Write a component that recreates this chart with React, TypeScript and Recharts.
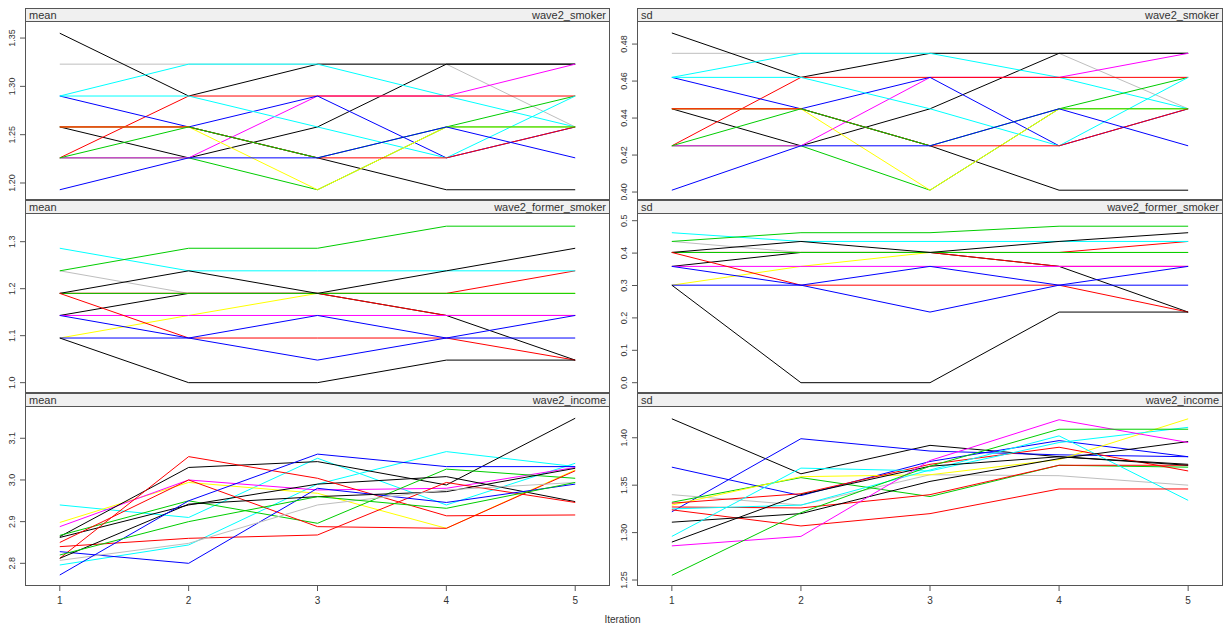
import React from "react";
import { LineChart, Line, XAxis, YAxis } from "recharts";

const iterations = [1, 2, 3, 4, 5];

const palette: Record<string, string> = {
  black: "#000000",
  red: "#FF0000",
  green: "#00CD00",
  blue: "#0000FF",
  cyan: "#00FFFF",
  magenta: "#FF00FF",
  yellow: "#FFFF00",
  gray: "#BEBEBE",
};

// wave2_smoker (one row per imputation chain, drawing order)
const smokerColors = ["gray", "black", "black", "cyan", "green", "magenta", "red", "blue", "cyan", "black", "yellow", "red", "green", "blue"];
const smokerMean = [
  [1.323, 1.323, 1.323, 1.323, 1.258],
  [1.258, 1.226, 1.258, 1.323, 1.323],
  [1.355, 1.29, 1.323, 1.323, 1.323],
  [1.29, 1.323, 1.323, 1.29, 1.258],
  [1.226, 1.226, 1.193, 1.258, 1.29],
  [1.226, 1.226, 1.29, 1.29, 1.323],
  [1.226, 1.29, 1.29, 1.29, 1.29],
  [1.29, 1.258, 1.29, 1.226, 1.258],
  [1.29, 1.29, 1.258, 1.226, 1.29],
  [1.258, 1.258, 1.226, 1.193, 1.193],
  [1.258, 1.258, 1.193, 1.258, 1.258],
  [1.258, 1.258, 1.226, 1.226, 1.258],
  [1.226, 1.258, 1.226, 1.258, 1.258],
  [1.193, 1.226, 1.226, 1.258, 1.226],
];
const smokerSd = [
  [0.475, 0.475, 0.475, 0.475, 0.445],
  [0.445, 0.425, 0.445, 0.475, 0.475],
  [0.486, 0.462, 0.475, 0.475, 0.475],
  [0.462, 0.475, 0.475, 0.462, 0.445],
  [0.425, 0.425, 0.401, 0.445, 0.462],
  [0.425, 0.425, 0.462, 0.462, 0.475],
  [0.425, 0.462, 0.462, 0.462, 0.462],
  [0.462, 0.445, 0.462, 0.425, 0.445],
  [0.462, 0.462, 0.445, 0.425, 0.462],
  [0.445, 0.445, 0.425, 0.401, 0.401],
  [0.445, 0.445, 0.401, 0.445, 0.445],
  [0.445, 0.445, 0.425, 0.425, 0.445],
  [0.425, 0.445, 0.425, 0.445, 0.445],
  [0.401, 0.425, 0.425, 0.445, 0.425],
];

// wave2_former_smoker
const formerColors = ["gray", "yellow", "red", "black", "red", "green", "magenta", "cyan", "green", "black", "red", "blue", "blue", "black"];
const formerMean = [
  [1.238, 1.19, 1.19, 1.19, 1.19],
  [1.095, 1.143, 1.19, 1.19, 1.19],
  [1.19, 1.19, 1.19, 1.19, 1.238],
  [1.143, 1.19, 1.19, 1.143, 1.048],
  [1.19, 1.19, 1.19, 1.143, 1.143],
  [1.19, 1.19, 1.19, 1.19, 1.19],
  [1.143, 1.143, 1.143, 1.143, 1.143],
  [1.286, 1.238, 1.238, 1.238, 1.238],
  [1.238, 1.286, 1.286, 1.333, 1.333],
  [1.19, 1.238, 1.19, 1.238, 1.286],
  [1.19, 1.095, 1.095, 1.095, 1.048],
  [1.143, 1.095, 1.048, 1.095, 1.095],
  [1.095, 1.095, 1.143, 1.095, 1.143],
  [1.095, 1.0, 1.0, 1.048, 1.048],
];
const formerSd = [
  [0.436, 0.402, 0.402, 0.402, 0.402],
  [0.301, 0.359, 0.402, 0.402, 0.402],
  [0.402, 0.402, 0.402, 0.402, 0.436],
  [0.359, 0.402, 0.402, 0.359, 0.218],
  [0.402, 0.402, 0.402, 0.359, 0.359],
  [0.402, 0.402, 0.402, 0.402, 0.402],
  [0.359, 0.359, 0.359, 0.359, 0.359],
  [0.463, 0.436, 0.436, 0.436, 0.436],
  [0.436, 0.463, 0.463, 0.483, 0.483],
  [0.402, 0.436, 0.402, 0.436, 0.463],
  [0.402, 0.301, 0.301, 0.301, 0.218],
  [0.359, 0.301, 0.218, 0.301, 0.301],
  [0.301, 0.301, 0.359, 0.301, 0.359],
  [0.301, 0.0, 0.0, 0.218, 0.218],
];

// wave2_income
const incomeMeanColors = ["cyan", "cyan", "yellow", "magenta", "black", "green", "black", "red", "red", "red", "blue", "black", "gray", "blue", "green"];
const incomeMean = [
  [2.94, 2.91, 3.052, 2.94, 3.04],
  [2.796, 2.844, 2.99, 3.068, 3.032],
  [2.898, 2.994, 2.968, 2.884, 3.024],
  [2.888, 3.0, 2.976, 2.98, 3.03],
  [2.864, 3.03, 3.044, 2.988, 3.148],
  [2.867, 2.95, 2.896, 3.026, 3.004],
  [2.862, 2.94, 2.99, 3.008, 2.948],
  [2.812, 3.056, 3.004, 2.914, 2.916],
  [2.85, 3.0, 2.888, 2.884, 3.022],
  [2.84, 2.86, 2.868, 2.994, 2.946],
  [2.828, 2.8, 2.98, 2.946, 2.99],
  [2.812, 2.942, 2.96, 2.972, 3.028],
  [2.807, 2.848, 2.94, 2.976, 2.994],
  [2.772, 2.95, 3.062, 3.032, 3.032],
  [2.82, 2.9, 2.96, 2.932, 2.994],
];
const incomeSdColors = ["black", "blue", "blue", "gray", "green", "yellow", "red", "red", "cyan", "red", "black", "cyan", "black", "magenta", "green"];
const incomeSd = [
  [1.42, 1.362, 1.392, 1.38, 1.372],
  [1.369, 1.339, 1.375, 1.397, 1.38],
  [1.322, 1.399, 1.386, 1.382, 1.38],
  [1.34, 1.329, 1.361, 1.36, 1.35],
  [1.332, 1.358, 1.338, 1.371, 1.369],
  [1.329, 1.359, 1.361, 1.377, 1.42],
  [1.331, 1.341, 1.372, 1.39, 1.365],
  [1.327, 1.326, 1.34, 1.371, 1.371],
  [1.325, 1.329, 1.366, 1.402, 1.334],
  [1.324, 1.307, 1.32, 1.346, 1.346],
  [1.311, 1.32, 1.354, 1.378, 1.396],
  [1.296, 1.368, 1.365, 1.395, 1.411],
  [1.29, 1.34, 1.37, 1.38, 1.371],
  [1.286, 1.296, 1.376, 1.419, 1.395],
  [1.255, 1.321, 1.37, 1.409, 1.409],
];

const FONT = "'Liberation Sans', Arial, sans-serif";
const INK = "#333333";
const FRAME = "#555555";

type PanelProps = {
  row: number;
  col: number;
  stat: string;
  variable: string;
  values: number[][];
  colors: string[];
  domain: [number, number];
  ticks: number[];
  digits: number;
};

const colLayout = [
  { boxLeft: 25, boxRight: 610 },
  { boxLeft: 637, boxRight: 1223 },
];
const rowLayout = [
  { boxTop: 8, boxBottom: 200 },
  { boxTop: 200, boxBottom: 393 },
  { boxTop: 393, boxBottom: 586 },
];

const Y_AXIS_W = 25;
const STRIP_H = 14;

function YTick(props: any) {
  const { x, y, payload, digits } = props;
  const bx = x - 3;
  return (
    <text
      x={bx}
      y={y}
      transform={`rotate(-90 ${bx} ${y})`}
      textAnchor="middle"
      fontSize={9}
      fill={INK}
      fontFamily={FONT}
    >
      {Number(payload.value).toFixed(digits)}
    </text>
  );
}

function Panel({ row, col, stat, variable, values, colors, domain, ticks, digits }: PanelProps) {
  const { boxLeft, boxRight } = colLayout[col];
  const { boxTop, boxBottom } = rowLayout[row];
  const topAxis = row === 0;
  const bottomAxis = row === 2;
  const topH = topAxis ? 5 : 0;
  const bottomH = bottomAxis ? 25 : 0;
  const chartLeft = boxLeft - Y_AXIS_W;
  const chartTop = boxTop - topH;
  const width = boxRight - chartLeft;
  const height = boxBottom - boxTop + topH + bottomH;

  const data = iterations.map((it, i) => {
    const r: Record<string, number> = { it };
    values.forEach((v, k) => {
      r["c" + k] = v[i];
    });
    return r;
  });

  return (
    <>
      <div style={{ position: "absolute", left: chartLeft, top: chartTop }}>
        <LineChart width={width} height={height} data={data} margin={{ top: 0, right: 0, bottom: 0, left: 0 }}>
          <XAxis
            dataKey="it"
            type="number"
            domain={[0.73, 5.27]}
            ticks={iterations}
            interval={0}
            allowDataOverflow
            orientation={topAxis ? "top" : "bottom"}
            hide={!topAxis && !bottomAxis}
            height={topAxis ? 5 : 25}
            tickSize={5}
            tickMargin={6}
            axisLine={false}
            tickLine={{ stroke: FRAME }}
            tick={bottomAxis ? { fontSize: 10, fill: INK, fontFamily: FONT } : false}
          />
          <YAxis
            type="number"
            domain={domain}
            ticks={ticks}
            interval={0}
            allowDataOverflow
            width={Y_AXIS_W}
            tickSize={5}
            axisLine={false}
            tickLine={{ stroke: FRAME }}
            tick={(p: any) => <YTick {...p} digits={digits} />}
          />
          {values.map((_, k) => (
            <Line
              key={k}
              type="linear"
              dataKey={"c" + k}
              stroke={palette[colors[k]]}
              strokeWidth={1}
              dot={false}
              isAnimationActive={false}
            />
          ))}
        </LineChart>
      </div>
      <div
        style={{
          position: "absolute",
          left: boxLeft,
          top: boxTop,
          width: boxRight - boxLeft,
          height: STRIP_H,
          background: "#F0F0F0",
          borderBottom: `1px solid ${FRAME}`,
          boxSizing: "border-box",
          fontFamily: FONT,
          fontSize: 11,
          color: INK,
          lineHeight: `${STRIP_H}px`,
        }}
      >
        <span style={{ position: "absolute", left: 4, top: 0 }}>{stat}</span>
        <span style={{ position: "absolute", right: 4, top: 0 }}>{variable}</span>
      </div>
      <div
        style={{
          position: "absolute",
          left: boxLeft,
          top: boxTop,
          width: boxRight - boxLeft,
          height: boxBottom - boxTop,
          border: `1px solid ${FRAME}`,
          boxSizing: "border-box",
          pointerEvents: "none",
        }}
      />
    </>
  );
}

export default function App() {
  return (
    <div style={{ position: "absolute", left: 0, top: 0, width: 1225, height: 632, background: "#FFFFFF", overflow: "hidden" }}>
      <Panel row={0} col={0} stat="mean" variable="wave2_smoker" values={smokerMean} colors={smokerColors}
        domain={[1.1824, 1.3811]} ticks={[1.2, 1.25, 1.3, 1.35]} digits={2} />
      <Panel row={0} col={1} stat="sd" variable="wave2_smoker" values={smokerSd} colors={smokerColors}
        domain={[0.3957, 0.4995]} ticks={[0.4, 0.42, 0.44, 0.46, 0.48]} digits={2} />
      <Panel row={1} col={0} stat="mean" variable="wave2_former_smoker" values={formerMean} colors={formerColors}
        domain={[0.978, 1.3887]} ticks={[1.0, 1.1, 1.2, 1.3]} digits={1} />
      <Panel row={1} col={1} stat="sd" variable="wave2_former_smoker" values={formerSd} colors={formerColors}
        domain={[-0.0318, 0.5639]} ticks={[0, 0.1, 0.2, 0.3, 0.4, 0.5]} digits={1} />
      <Panel row={2} col={0} stat="mean" variable="wave2_income" values={incomeMean} colors={incomeMeanColors}
        domain={[2.7456, 3.2086]} ticks={[2.8, 2.9, 3.0, 3.1]} digits={1} />
      <Panel row={2} col={1} stat="sd" variable="wave2_income" values={incomeSd} colors={incomeSdColors}
        domain={[1.2437, 1.4472]} ticks={[1.25, 1.3, 1.35, 1.4]} digits={2} />
      <div style={{ position: "absolute", left: 0, width: 1225, top: 614, textAlign: "center", fontFamily: FONT, fontSize: 10, color: INK }}>
        <span style={{ position: "relative", left: 10 }}>Iteration</span>
      </div>
    </div>
  );
}
